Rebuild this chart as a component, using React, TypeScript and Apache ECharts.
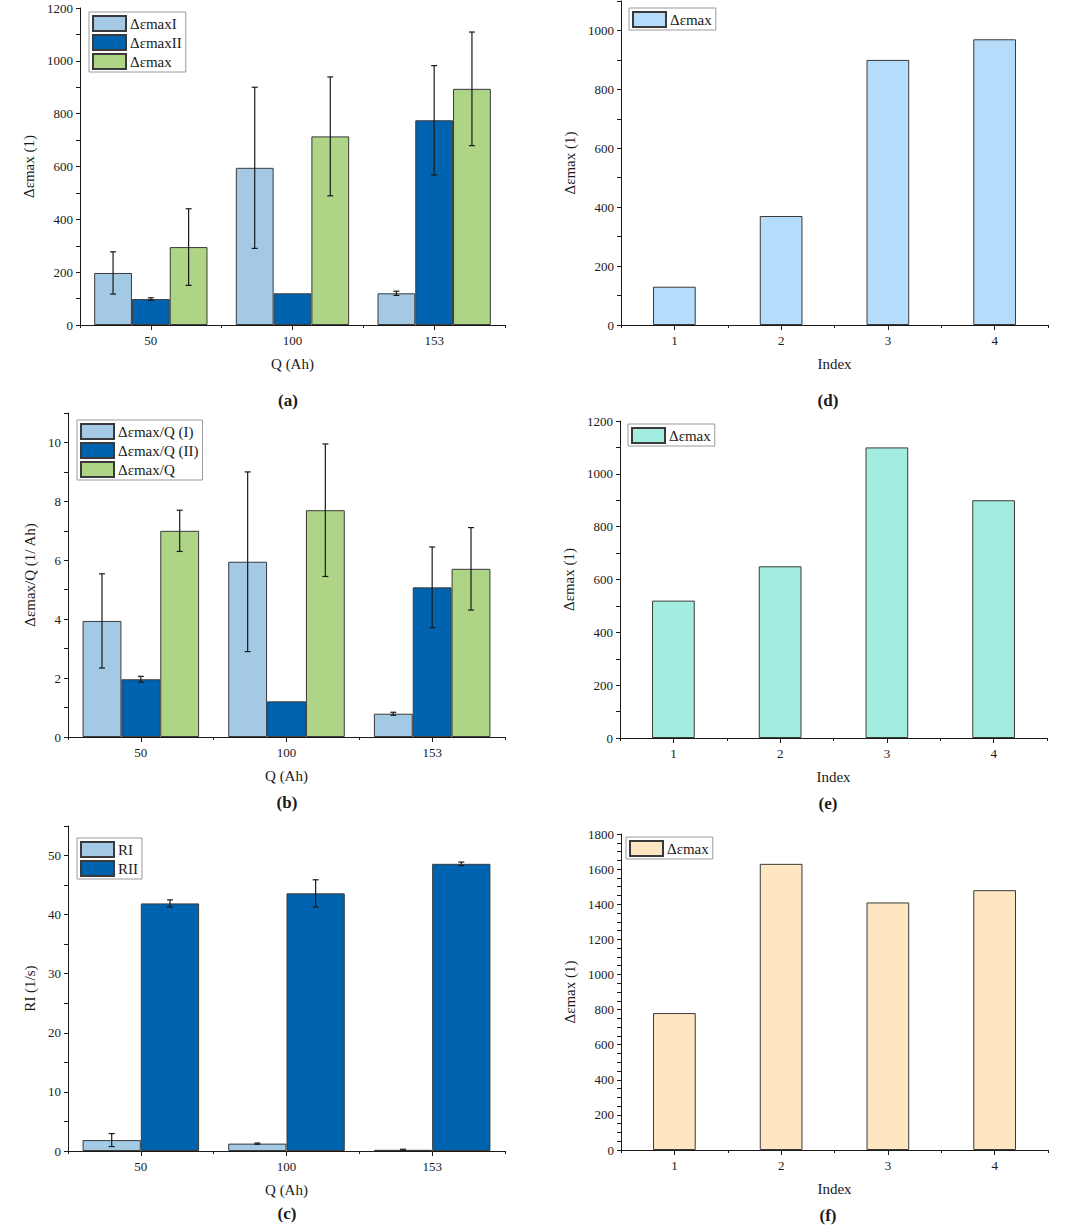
import React, { useEffect, useRef } from 'react';
import * as echarts from 'echarts';

// ---------- data ----------
const qCats = ['50', '100', '153'];
const idxCats = ['1', '2', '3', '4'];

// (a)
const aNames = ['ΔεmaxI', 'ΔεmaxII', 'Δεmax'];
const aMaxI = [197, 595, 120];
const aMaxIErr = [80, 305, 8];
const aMaxII = [98, 120, 775];
const aMaxIIErr = [5, 0, 207];
const aMax = [295, 714, 894];
const aMaxErr = [145, 225, 215];

// (b)
const bNames = ['Δεmax/Q (I)', 'Δεmax/Q (II)', 'Δεmax/Q'];
const bQI = [3.94, 5.95, 0.79];
const bQIErr = [1.6, 3.05, 0.05];
const bQII = [1.96, 1.21, 5.08];
const bQIIErr = [0.1, 0, 1.37];
const bQ = [7.0, 7.7, 5.71];
const bQErr = [0.7, 2.25, 1.4];

// (c)
const cNames = ['RI', 'RII'];
const cRI = [1.85, 1.25, 0.2];
const cRIErr = [1.1, 0.1, 0.1];
const cRII = [41.9, 43.6, 48.6];
const cRIIErr = [0.6, 2.3, 0.3];

// (d), (e), (f)
const dMax = [130, 370, 900, 970];
const eMax = [520, 650, 1100, 900];
const fMax = [780, 1630, 1410, 1480];

const C_LIGHT = '#a3c9e5';
const C_DARK = '#0063b0';
const C_GREEN = '#aed485';
const C_D = '#b5dcfb';
const C_E = '#a2eddf';
const C_F = '#fee6c3';

const FONT = 'Liberation Serif';
const INK = '#1a1a1a';

function errSeries(vals: number[], errs: number[], k: number, n: number, gapFrac: number) {
  return {
    type: 'custom',
    name: '_err' + k,
    silent: true,
    z: 10,
    xAxisIndex: 0,
    yAxisIndex: 0,
    data: vals.map((v, i) => [i, v, errs[i]]),
    renderItem: (params: any, api: any) => {
      const ci = api.value(0);
      const v = api.value(1);
      const e = api.value(2);
      if (!(e > 0)) return null;
      const band = api.size([1, 0])[0];
      const bw = (band * (1 - gapFrac)) / n;
      const dx = (k - (n - 1) / 2) * bw;
      const p = api.coord([ci, v]);
      const x = p[0] + dx;
      const yt = api.coord([ci, v + e])[1];
      const yb = api.coord([ci, Math.max(v - e, 0)])[1];
      const cap = 3;
      const style = { stroke: INK, lineWidth: 1.2 };
      return {
        type: 'group',
        children: [
          { type: 'line', shape: { x1: x, y1: yt, x2: x, y2: yb }, style },
          { type: 'line', shape: { x1: x - cap, y1: yt, x2: x + cap, y2: yt }, style },
          { type: 'line', shape: { x1: x - cap, y1: yb, x2: x + cap, y2: yb }, style },
        ],
      };
    },
  };
}

interface PanelCfg {
  cats: string[];
  names: string[];
  values: number[][];
  errs?: number[][];
  colors: string[];
  gapFrac: number;
  grid: { left: number; top: number; width: number; height: number };
  yMax: number;
  yStep: number;
  yMajor: number;
  yName: string;
  yNameGap: number;
  xName: string;
  xNameGap: number;
  legend: { left: number; top: number };
  label: string;
  labelPos: [number, number];
}

function buildOption(c: PanelCfg) {
  const axisLineStyle = { color: INK, width: 1 };
  const n = c.values.length;
  const series: any[] = c.values.map((vals, k) => ({
    type: 'bar',
    name: c.names[k],
    data: vals,
    barGap: '0%',
    barCategoryGap: Math.round(c.gapFrac * 100) + '%',
    itemStyle: { color: c.colors[k], borderColor: '#3a3a3a', borderWidth: 1 },
    z: 2,
  }));
  if (c.errs) {
    c.errs.forEach((errs, k) => series.push(errSeries(c.values[k], errs, k, n, c.gapFrac)));
  }
  return {
    animation: false,
    backgroundColor: 'transparent',
    textStyle: { fontFamily: FONT },
    grid: { ...c.grid, containLabel: false },
    legend: {
      data: c.names,
      left: c.legend.left,
      top: c.legend.top,
      orient: 'vertical',
      icon: 'rect',
      itemWidth: 33,
      itemHeight: 15,
      itemGap: 2,
      padding: [3, 4, 2, 3],
      borderColor: '#9a9a9a',
      borderWidth: 1,
      selectedMode: false,
      textStyle: { fontFamily: FONT, fontSize: 15, color: INK, padding: [0, 0, 0, -1] },
    },
    xAxis: [
      {
        type: 'category',
        data: c.cats,
        boundaryGap: true,
        name: c.xName,
        nameLocation: 'middle',
        nameGap: c.xNameGap,
        nameTextStyle: { fontFamily: FONT, fontSize: 15, color: INK },
        axisLine: { show: true, lineStyle: axisLineStyle },
        axisTick: { show: true, alignWithLabel: true, length: 5, lineStyle: axisLineStyle },
        axisLabel: { fontFamily: FONT, fontSize: 13, color: INK, margin: 9 },
        splitLine: { show: false },
      },
      {
        type: 'category',
        data: c.cats,
        boundaryGap: true,
        position: 'bottom',
        axisLine: { show: false },
        axisTick: { show: true, length: 3, lineStyle: axisLineStyle },
        axisLabel: { show: false },
        splitLine: { show: false },
      },
    ],
    yAxis: {
      type: 'value',
      min: 0,
      max: c.yMax,
      interval: c.yStep,
      name: c.yName,
      nameLocation: 'middle',
      nameGap: c.yNameGap,
      nameTextStyle: { fontFamily: FONT, fontSize: 15, color: INK },
      axisLine: { show: true, lineStyle: axisLineStyle },
      axisTick: { show: true, length: 4, lineStyle: axisLineStyle },
      axisLabel: {
        fontFamily: FONT,
        fontSize: 13,
        color: INK,
        margin: 7,
        formatter: (v: number) => {
          const r = v / c.yMajor;
          return Math.abs(r - Math.round(r)) < 1e-6 ? String(v) : '';
        },
      },
      splitLine: { show: false },
    },
    graphic: [
      {
        type: 'text',
        x: c.labelPos[0],
        y: c.labelPos[1],
        style: {
          text: c.label,
          font: `bold 17px "${FONT}"`,
          fill: INK,
          textAlign: 'center',
          textVerticalAlign: 'middle',
        },
      },
    ],
    series,
  };
}

const panels: { pos: { left: number; top: number; width: number; height: number }; cfg: PanelCfg }[] = [
  {
    pos: { left: 0, top: 0, width: 530, height: 410 },
    cfg: {
      cats: qCats,
      names: aNames,
      values: [aMaxI, aMaxII, aMax],
      errs: [aMaxIErr, aMaxIIErr, aMaxErr],
      colors: [C_LIGHT, C_DARK, C_GREEN],
      gapFrac: 0.2,
      grid: { left: 80, top: 8, width: 425, height: 317 },
      yMax: 1200,
      yStep: 100,
      yMajor: 200,
      yName: 'Δεmax (1)',
      yNameGap: 36,
      xName: 'Q (Ah)',
      xNameGap: 31,
      legend: { left: 89, top: 12 },
      label: '(a)',
      labelPos: [288, 400],
    },
  },
  {
    pos: { left: 0, top: 410, width: 530, height: 405 },
    cfg: {
      cats: qCats,
      names: bNames,
      values: [bQI, bQII, bQ],
      errs: [bQIErr, bQIIErr, bQErr],
      colors: [C_LIGHT, C_DARK, C_GREEN],
      gapFrac: 0.2,
      grid: { left: 68, top: 3, width: 437, height: 324 },
      yMax: 11,
      yStep: 1,
      yMajor: 2,
      yName: 'Δεmax/Q (1/ Ah)',
      yNameGap: 26,
      xName: 'Q (Ah)',
      xNameGap: 31,
      legend: { left: 77, top: 10 },
      label: '(b)',
      labelPos: [287, 392],
    },
  },
  {
    pos: { left: 0, top: 815, width: 530, height: 410 },
    cfg: {
      cats: qCats,
      names: cNames,
      values: [cRI, cRII],
      errs: [cRIErr, cRIIErr],
      colors: [C_LIGHT, C_DARK],
      gapFrac: 0.2,
      grid: { left: 68, top: 11, width: 437, height: 325 },
      yMax: 55,
      yStep: 5,
      yMajor: 10,
      yName: 'RI (1/s)',
      yNameGap: 26,
      xName: 'Q (Ah)',
      xNameGap: 31,
      legend: { left: 77, top: 23 },
      label: '(c)',
      labelPos: [287, 398],
    },
  },
  {
    pos: { left: 530, top: 0, width: 535, height: 410 },
    cfg: {
      cats: idxCats,
      names: ['Δεmax'],
      values: [dMax],
      colors: [C_D],
      gapFrac: 0.6,
      grid: { left: 91, top: 1, width: 427, height: 324 },
      yMax: 1100,
      yStep: 100,
      yMajor: 200,
      yName: 'Δεmax (1)',
      yNameGap: 38,
      xName: 'Index',
      xNameGap: 31,
      legend: { left: 99, top: 8 },
      label: '(d)',
      labelPos: [298, 400],
    },
  },
  {
    pos: { left: 530, top: 410, width: 535, height: 405 },
    cfg: {
      cats: idxCats,
      names: ['Δεmax'],
      values: [eMax],
      colors: [C_E],
      gapFrac: 0.6,
      grid: { left: 90, top: 11, width: 427, height: 317 },
      yMax: 1200,
      yStep: 100,
      yMajor: 200,
      yName: 'Δεmax (1)',
      yNameGap: 38,
      xName: 'Index',
      xNameGap: 31,
      legend: { left: 98, top: 14 },
      label: '(e)',
      labelPos: [298, 393],
    },
  },
  {
    pos: { left: 530, top: 815, width: 535, height: 410 },
    cfg: {
      cats: idxCats,
      names: ['Δεmax'],
      values: [fMax],
      colors: [C_F],
      gapFrac: 0.6,
      grid: { left: 91, top: 19, width: 427, height: 316 },
      yMax: 1800,
      yStep: 50,
      yMajor: 200,
      yName: 'Δεmax (1)',
      yNameGap: 38,
      xName: 'Index',
      xNameGap: 31,
      legend: { left: 96, top: 22 },
      label: '(f)',
      labelPos: [298, 400],
    },
  },
];

function Panel({ pos, cfg }: { pos: any; cfg: PanelCfg }) {
  const ref = useRef<HTMLDivElement>(null);
  useEffect(() => {
    if (!ref.current) return;
    const chart = echarts.init(ref.current, undefined, { renderer: 'svg' });
    chart.setOption(buildOption(cfg) as any);
    return () => chart.dispose();
  }, []);
  return (
    <div
      ref={ref}
      style={{ position: 'absolute', left: pos.left, top: pos.top, width: pos.width, height: pos.height }}
    />
  );
}

export default function App() {
  return (
    <div
      style={{
        position: 'absolute',
        left: 0,
        top: 0,
        width: 1065,
        height: 1225,
        background: '#ffffff',
        overflow: 'hidden',
      }}
    >
      {panels.map((p, i) => (
        <Panel key={i} pos={p.pos} cfg={p.cfg} />
      ))}
    </div>
  );
}
